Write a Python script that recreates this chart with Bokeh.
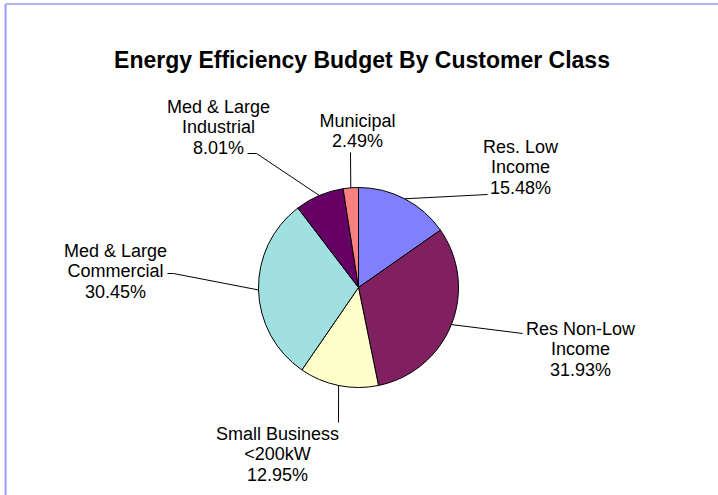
import math
from bokeh.plotting import figure
from bokeh.models import Range1d, ColumnDataSource
from bokeh.core.properties import value
from bokeh.embed import file_html
from bokeh.resources import INLINE

# ---- data ----
categories = ["Res. Low\nIncome", "Res Non-Low\nIncome", "Small Business\n<200kW",
              "Med & Large\nCommercial", "Med & Large\nIndustrial", "Municipal"]
percents = [15.48, 31.93, 12.95, 30.45, 8.01, 2.49]
colors = ["#8080FF", "#802060", "#FFFFCC", "#A0E0E0", "#660066", "#FF8080"]
title_text = "Energy Efficiency Budget By Customer Class"

# ---- layout (screen pixel coordinates) ----
OX, OY = 0, 0
W, H = 718, 495
CX, CY, R = 358, 287, 100
TEXT_SHIFT = -7
label_layout = [
    dict(tx=520, ty=153, lead=[(487, 194)]),
    dict(tx=580, ty=335, lead=[(522, 333)]),
    dict(tx=277, ty=440, lead=[(338, 422)]),
    dict(tx=115, ty=257, lead=[(167, 273), (173, 273)]),
    dict(tx=218, ty=113, lead=[(247, 153), (256, 153)]),
    dict(tx=357, ty=127, lead=[(350, 152)]),
]
LINE_GAP = 20.5

p = figure(width=W, height=H, output_backend="svg", toolbar_location=None,
           x_range=Range1d(OX, OX + W), y_range=Range1d(-(OY + H), -OY),
           min_border=0, outline_line_color=None, background_fill_color="white",
           border_fill_color="white")
p.axis.visible = False
p.grid.visible = False

total = sum(percents)
starts, ends, mids = [], [], []
cum = 0.0
for v in percents:
    a0 = math.pi / 2 - 2 * math.pi * cum / total
    cum += v
    a1 = math.pi / 2 - 2 * math.pi * cum / total
    starts.append(a0)
    ends.append(a1)
    mids.append((a0 + a1) / 2)

src = ColumnDataSource(dict(start=starts, end=ends, color=colors))
p.wedge(x=CX, y=-CY, radius=R, start_angle="start", end_angle="end",
        direction="clock", fill_color="color", line_color="black", line_width=1,
        source=src)

for i, lay in enumerate(label_layout):
    ex = CX + R * math.cos(mids[i])
    ey = -CY + R * math.sin(mids[i])
    xs = [pt[0] for pt in lay["lead"]] + [ex]
    ys = [-pt[1] for pt in lay["lead"]] + [ey]
    p.line(xs, ys, line_color="black", line_width=1)

tx, ty, tt = [], [], []
for i, lay in enumerate(label_layout):
    lines = categories[i].split("\n") + ["%.2f%%" % percents[i]]
    for k, s in enumerate(lines):
        tx.append(lay["tx"])
        ty.append(-(lay["ty"] + TEXT_SHIFT + k * LINE_GAP))
        tt.append(s)
p.text(x=tx, y=ty, text=tt, text_align="center", text_baseline="alphabetic",
       text_font=value("Liberation Sans"), text_font_size="18px", text_color="black")

p.text(x=[361.5], y=[-59], text=[title_text], text_align="center",
       text_baseline="alphabetic", text_font=value("Liberation Sans"),
       text_font_size="23px", text_font_style="bold", text_color="black")

p.line([5, 5], [-(OY + H), -3.5], line_color="#9999FF", line_width=2)
p.line([5, OX + W], [-3.5, -3.5], line_color="#9999FF", line_width=1.5)

open("out.html", "w").write(file_html(p, INLINE))
